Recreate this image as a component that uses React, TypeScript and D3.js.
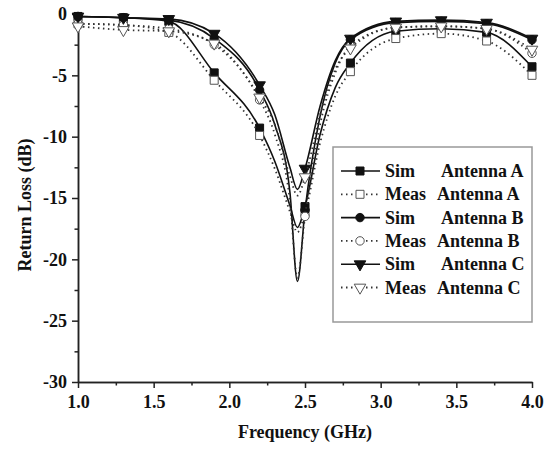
import { useEffect, useRef } from "react";
import * as d3 from "d3";

const width = 545;
const height = 449;
const margin = { top: 14, right: 13, bottom: 67, left: 78 };

// frequency points (GHz) of the traces, markers only on the 0.3 GHz grid
const freq = [1.0, 1.3, 1.6, 1.9, 2.2, 2.3, 2.4, 2.45, 2.5, 2.6, 2.7, 2.8, 3.1, 3.4, 3.7, 4.0];
const markerFreq = [1.0, 1.3, 1.6, 1.9, 2.2, 2.5, 2.8, 3.1, 3.4, 3.7, 4.0];

// return loss (dB)
const simA = [-0.2, -0.3, -0.6, -4.8, -9.3, -12.0, -15.6, -17.4, -15.7, -9.8, -6.0, -4.0, -1.4, -1.2, -1.5, -4.3];
const measA = [-0.8, -0.9, -1.5, -5.4, -9.9, -12.6, -16.1, -17.8, -16.2, -10.5, -6.7, -4.7, -2.0, -1.6, -2.2, -5.0];
const simB = [-0.2, -0.3, -0.5, -2.0, -6.2, -9.0, -14.5, -21.8, -16.0, -8.3, -4.0, -2.1, -0.7, -0.6, -0.8, -2.1];
const measB = [-0.8, -0.9, -1.2, -2.5, -7.0, -9.8, -15.2, -21.5, -16.5, -9.0, -4.8, -2.6, -1.1, -1.0, -1.2, -3.2];
const simC = [-0.2, -0.3, -0.4, -1.6, -5.8, -8.2, -12.5, -14.3, -12.6, -7.5, -3.8, -2.0, -0.6, -0.5, -0.7, -2.0];
const measC = [-1.0, -1.3, -1.4, -2.4, -6.8, -9.0, -13.2, -14.8, -13.3, -8.2, -4.5, -2.8, -1.1, -1.0, -1.2, -2.9];

const xMajor = [1.0, 1.5, 2.0, 2.5, 3.0, 3.5, 4.0];
const xMinor = [1.25, 1.75, 2.25, 2.75, 3.25, 3.75];
const yMajor = [0, -5, -10, -15, -20, -25, -30];
const yMinor = [-2.5, -7.5, -12.5, -17.5, -22.5, -27.5];

const series = [
  { kind: "Sim", antenna: "Antenna A", values: simA, symbol: "square" },
  { kind: "Meas", antenna: "Antenna A", values: measA, symbol: "square" },
  { kind: "Sim", antenna: "Antenna B", values: simB, symbol: "circle" },
  { kind: "Meas", antenna: "Antenna B", values: measB, symbol: "circle" },
  { kind: "Sim", antenna: "Antenna C", values: simC, symbol: "triangle" },
  { kind: "Meas", antenna: "Antenna C", values: measC, symbol: "triangle" },
];

const font = "'Liberation Serif', 'Times New Roman', serif";

function symbolPath(name: string) {
  if (name === "square") return d3.symbol(d3.symbolSquare, 64)();
  if (name === "circle") return d3.symbol(d3.symbolCircle, 56)();
  return d3.symbol(d3.symbolTriangle, 58)();
}

function drawMarker(g: any, name: string, filled: boolean, cx: number, cy: number) {
  g.append("path")
    .attr("d", symbolPath(name))
    .attr("transform", `translate(${cx},${cy})` + (name === "triangle" ? " rotate(180)" : ""))
    .attr("fill", filled ? "#111" : "#fff")
    .attr("stroke", filled ? "#111" : "#555")
    .attr("stroke-width", 1);
}

export default function App() {
  const node = useRef<HTMLDivElement>(null);

  useEffect(() => {
    const root = d3.select(node.current);
    root.selectAll("svg").remove();
    const svg = root
      .append("svg")
      .attr("width", width)
      .attr("height", height)
      .style("position", "absolute")
      .style("left", "0px")
      .style("top", "0px")
      .style("background", "#fff");

    const x = d3.scaleLinear().domain([1, 4]).range([margin.left, width - margin.right]);
    const y = d3.scaleLinear().domain([-30, 0]).range([height - margin.bottom, margin.top]);

    // axes: minor ticks first, then majors with labels
    const styleAxis = (g: any) => {
      g.select(".domain").attr("stroke", "#222").attr("stroke-width", 1.5);
      g.selectAll(".tick line").attr("stroke", "#222").attr("stroke-width", 1.5);
      g.selectAll("text")
        .attr("fill", "#111")
        .attr("font-family", font)
        .attr("font-weight", "bold")
        .attr("font-size", 18);
    };

    svg.append("g")
      .attr("transform", `translate(0,${y(-30)})`)
      .call(d3.axisBottom(x).tickValues(xMinor).tickSize(3.5).tickSizeOuter(0).tickFormat(() => ""))
      .call(styleAxis);
    svg.append("g")
      .attr("transform", `translate(0,${y(-30)})`)
      .call(d3.axisBottom(x).tickValues(xMajor).tickSize(6).tickSizeOuter(0).tickPadding(7).tickFormat(d3.format(".1f")))
      .call(styleAxis);

    svg.append("g")
      .attr("transform", `translate(${x(1)},0)`)
      .call(d3.axisLeft(y).tickValues(yMinor).tickSize(3.5).tickSizeOuter(0).tickFormat(() => ""))
      .call(styleAxis);
    svg.append("g")
      .attr("transform", `translate(${x(1)},0)`)
      .call(d3.axisLeft(y).tickValues(yMajor).tickSize(6).tickSizeOuter(0).tickPadding(5).tickFormat((d: any) => String(d)))
      .call(styleAxis);

    // axis titles
    svg.append("text")
      .attr("x", 305)
      .attr("y", 438)
      .attr("text-anchor", "middle")
      .attr("font-family", font)
      .attr("font-weight", "bold")
      .attr("font-size", 18)
      .attr("fill", "#111")
      .text("Frequency (GHz)");
    svg.append("text")
      .attr("transform", "translate(31,205) rotate(-90)")
      .attr("text-anchor", "middle")
      .attr("font-family", font)
      .attr("font-weight", "bold")
      .attr("font-size", 18)
      .attr("fill", "#111")
      .text("Return Loss (dB)");

    // traces
    const line = d3
      .line<number>()
      .x((d, i) => x(freq[i]))
      .y((d) => y(d))
      .curve(d3.curveMonotoneX);

    series.forEach((s) => {
      const sim = s.kind === "Sim";
      const g = svg.append("g");
      g.append("path")
        .attr("d", line(s.values))
        .attr("fill", "none")
        .attr("stroke", sim ? "#111" : "#333")
        .attr("stroke-width", sim ? 1.6 : 1.8)
        .attr("stroke-dasharray", sim ? null : "1.5,3.5");
      freq.forEach((f, i) => {
        if (markerFreq.some((m) => Math.abs(m - f) < 1e-6)) {
          drawMarker(g, s.symbol, sim, x(f), y(s.values[i]));
        }
      });
    });

    // legend
    const lg = svg.append("g");
    lg.append("rect")
      .attr("x", 333)
      .attr("y", 147)
      .attr("width", 199)
      .attr("height", 175)
      .attr("fill", "#fff")
      .attr("stroke", "#999")
      .attr("stroke-width", 1.5);

    series.forEach((s, i) => {
      const sim = s.kind === "Sim";
      const cy = 171 + i * 23.3;
      lg.append("line")
        .attr("x1", 341)
        .attr("x2", 380)
        .attr("y1", cy)
        .attr("y2", cy)
        .attr("stroke", sim ? "#111" : "#333")
        .attr("stroke-width", sim ? 1.6 : 1.8)
        .attr("stroke-dasharray", sim ? null : "1.5,3.5");
      drawMarker(lg, s.symbol, sim, 360, cy);
      lg.append("text")
        .attr("x", 385)
        .attr("y", cy + 6)
        .attr("font-family", font)
        .attr("font-weight", "bold")
        .attr("font-size", 18)
        .attr("fill", "#111")
        .text(s.kind);
      lg.append("text")
        .attr("x", sim ? 441 : 437)
        .attr("y", cy + 6)
        .attr("font-family", font)
        .attr("font-weight", "bold")
        .attr("font-size", 18)
        .attr("fill", "#111")
        .text(s.antenna);
    });
  }, []);

  return <div ref={node} />;
}
